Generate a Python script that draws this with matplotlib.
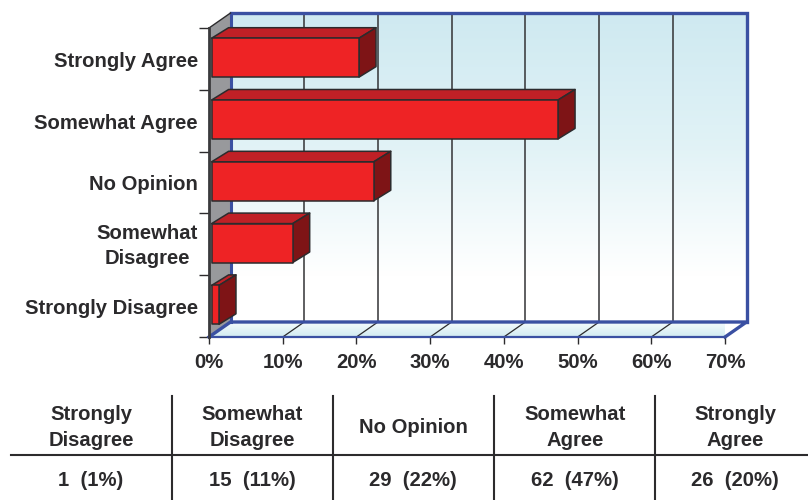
import numpy as np
import matplotlib
matplotlib.use("Agg")
import matplotlib.pyplot as plt
from matplotlib.patches import Polygon

categories = ["Strongly Disagree", "Somewhat\nDisagree", "No Opinion", "Somewhat Agree", "Strongly Agree"]
percent = [1, 11, 22, 47, 20]
xticks = [0, 10, 20, 30, 40, 50, 60, 70]
table_heads = ["Strongly\nDisagree", "Somewhat\nDisagree", "No Opinion", "Somewhat\nAgree", "Strongly\nAgree"]
table_vals = ["1  (1%)", "15  (11%)", "29  (22%)", "62  (47%)", "26  (20%)"]

W, H = 808, 500
plt.rcParams['font.family'] = ['Liberation Sans', 'DejaVu Sans']
TXT = '#2b2a2c'; BLUE = '#3a50a2'; DARK = '#2c2b2d'; FS = 14.6
fig = plt.figure(figsize=(W/100, H/100), dpi=100)
x0, x1, yb, yt = 209, 725, 337, 28
ax = fig.add_axes([x0/W, 1-yb/H, (x1-x0)/W, (yb-yt)/H])
ax.set_xlim(0, 70); ax.set_ylim(0, 5)
ax.patch.set_visible(False)
for s in ax.spines.values():
    s.set_visible(False)
PX = 70/(x1-x0); PY = 5/(yb-yt)
DX, DY = 21.5*PX, 15*PY

def poly(pts, fc, ec='none', lw=0, z=1):
    ax.add_patch(Polygon(pts, closed=True, fc=fc, ec=ec, lw=lw, zorder=z, clip_on=False, joinstyle='round'))

def grad(extent, stops, cols, clip=None, z=0.5):
    c = np.linspace(0, 1, 256)
    img = np.stack([np.interp(c, stops, [k[j] for k in cols]) for j in range(3)], axis=1)[:, None, :]
    im = ax.imshow(img, extent=extent, aspect='auto', origin='upper', zorder=z, clip_on=clip is not None)
    if clip is not None:
        im.set_clip_path(Polygon(clip, closed=True, transform=ax.transData))
    ax.set_xlim(0, 70); ax.set_ylim(0, 5)

# back wall, floor, side wall
grad([DX, 70+DX, DY, 5+DY], [0, 0.42, 0.85, 1],
     [(0.81, 0.915, 0.945), (0.88, 0.95, 0.965), (1, 1, 1), (1, 1, 1)])
floor = [(0, 0), (70, 0), (70+DX, DY), (DX, DY)]
grad([0, 70+DX, 0, DY], [0, 1], [(0.96, 0.985, 0.99), (0.82, 0.92, 0.945)], clip=floor)
poly([(0, 0), (DX, DY), (DX, 5+DY), (0, 5)], '#98999c')

# grid
for t in xticks[1:-1]:
    ax.plot([t+DX, t+DX], [DY, 5+DY], color='#333335', lw=1.1, zorder=1, clip_on=False)
    ax.plot([t, t+DX], [0, DY], color=DARK, lw=0.9, zorder=1, clip_on=False)

# wall frame
ax.plot([DX, 70+DX, 70+DX], [5+DY, 5+DY, DY], color=BLUE, lw=2.4, zorder=2, clip_on=False, solid_joinstyle='miter')
ax.plot([DX, DX], [DY, 5+DY], color=BLUE, lw=2.2, zorder=1.5, clip_on=False)
ax.plot([0, DX, 70+DX, 70], [0, DY, DY, 0], color=BLUE, lw=2.4, zorder=2, clip_on=False, solid_joinstyle='miter')
ax.plot([0, DX], [5, 5+DY], color=DARK, lw=1.0, zorder=2, clip_on=False)

# axes lines and ticks
ax.plot([0, 70], [0, 0], color=BLUE, lw=1.6, zorder=3, clip_on=False)
ax.plot([0, 0], [0, 5], color='#3a3a3c', lw=2.0, zorder=3, clip_on=False)
ax.set_xticks(xticks)
ax.set_xticklabels([f"{t}%" for t in xticks], fontsize=FS, fontweight='bold', color=TXT)
ax.set_yticks(range(6))
ax.set_yticklabels([])
ax.tick_params(axis='x', length=5, width=1, color=DARK, pad=6.5)
ax.tick_params(axis='y', length=7, width=1, color=DARK)

# bars
BAR0, BH, BDX, BDY = 2.6*PX, 0.63, 17*PX, 10.5*PY
for i, (c, v) in enumerate(zip(categories, percent)):
    b = i + 0.205; t = b + BH
    l = BAR0; r = BAR0 + v
    kw = dict(ec=DARK, lw=1.1, z=4+i*0.01)
    poly([(l, t), (r, t), (r+BDX, t+BDY), (l+BDX, t+BDY)], '#c02026', **kw)
    poly([(r, b), (r+BDX, b+BDY), (r+BDX, t+BDY), (r, t)], '#7e1416', **kw)
    poly([(l, b), (r, b), (r, t), (l, t)], '#ee2325', **kw)
    ax.annotate(c, xy=(0, i+0.5), xytext=(198-x0, -2.5 + (1 if i == 1 else 0)), textcoords='offset pixels',
                ha='right', va='center', fontsize=FS, fontweight='bold', color=TXT, linespacing=1.375, multialignment='center')

# table in pixel coordinates
tb = fig.add_axes([0, 0, 1, 1]); tb.set_xlim(0, W); tb.set_ylim(H, 0); tb.axis('off'); tb.patch.set_visible(False)
col_edges = [11, 172, 333, 494, 655, 808]
for e in col_edges[1:-1]:
    tb.plot([e, e], [396, 500], color=DARK, lw=1.5)
tb.plot([11, 808], [455, 455], color=DARK, lw=1.5)
centers = [91, 252, 413, 575, 735]
for cx, h, v in zip(centers, table_heads, table_vals):
    tb.text(cx, 427.5, h, ha='center', va='center', fontsize=FS, fontweight='bold', color=TXT, linespacing=1.47)
    tb.text(cx, 481, v, ha='center', va='center', fontsize=FS, fontweight='bold', color=TXT)

fig.savefig("out.png", dpi=100)
